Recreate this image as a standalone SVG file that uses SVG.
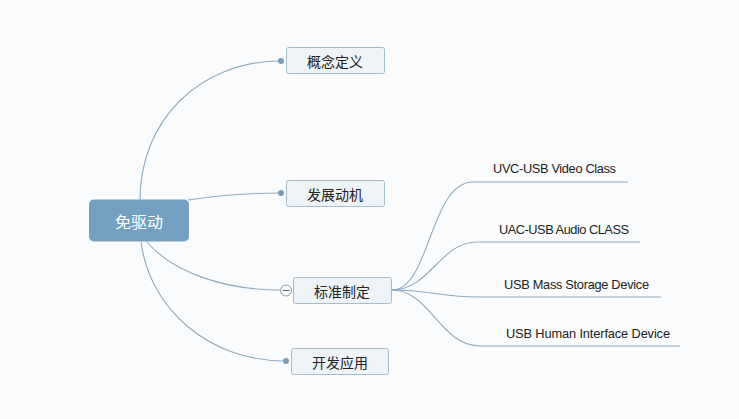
<svg xmlns="http://www.w3.org/2000/svg" width="739" height="419" viewBox="0 0 739 419">
<style>
.bg{fill:#fafbfc}
.box{fill:#eef3f7;stroke:#a5bccd;stroke-width:1}
.t{font-family:"Noto Sans CJK SC","Liberation Sans",sans-serif;font-size:14px;fill:#222;text-anchor:middle;dominant-baseline:central}
.rt{font-family:"Noto Sans CJK SC","Liberation Sans",sans-serif;font-size:16px;fill:#fff;text-anchor:middle;dominant-baseline:central}
.lt{font-family:"Liberation Sans","Noto Sans",sans-serif;font-size:12.8px;fill:#222}
.c{fill:none;stroke:#8eaabf;stroke-width:1.1}
.dot{fill:#7c9cb5}
</style>
<rect class="bg" x="0" y="0" width="739" height="419"/>
<g id="connectors">
<path class="c" d="M140,200 C140,120 200,61 281,61"/>
<path class="c" d="M188,200 C220,195 250,193 281,193"/>
<path class="c" d="M147,242 C175,275 230,290 280,290"/>
<path class="c" d="M141,242 C150,310 210,361 285,361"/>
<path class="c" d="M392,290 C430,290 430,182 473,182 H628"/>
<path class="c" d="M392,290 C430,290 440,242 477,242 H640"/>
<path class="c" d="M392,290 C430,290 440,297 480,297 H661"/>
<path class="c" d="M392,290 C430,290 440,346 480,346 H680"/>
<circle class="dot" cx="281" cy="61" r="3"/>
<circle class="dot" cx="281" cy="193" r="3"/>
<circle class="dot" cx="286" cy="361" r="3"/>
</g>
<g id="root">
<rect x="89" y="199.5" width="100" height="42" rx="5" fill="#739fc0"/>
<text class="rt" x="139" y="221">免驱动</text>
</g>
<g id="n1">
<rect class="box" x="286.5" y="47.5" width="98" height="26" rx="2"/>
<text class="t" x="335" y="60.5">概念定义</text>
</g>
<g id="n2">
<rect class="box" x="286.5" y="180.5" width="98" height="26" rx="2"/>
<text class="t" x="335" y="193.5">发展动机</text>
</g>
<g id="n3">
<rect class="box" x="293.5" y="277.5" width="98" height="26" rx="2"/>
<text class="t" x="342" y="290.5">标准制定</text>
<circle cx="286" cy="290.5" r="5.5" fill="#fafbfc" stroke="#8e9aa5" stroke-width="1"/>
<line x1="282.5" y1="290.5" x2="289.5" y2="290.5" stroke="#666" stroke-width="1"/>
</g>
<g id="n4">
<rect class="box" x="291.5" y="348.5" width="97" height="26" rx="2"/>
<text class="t" x="340" y="361.5">开发应用</text>
</g>
<g id="c1"><text class="lt" x="493" y="173" textLength="123" lengthAdjust="spacing">UVC-USB Video Class</text></g>
<g id="c2"><text class="lt" x="499" y="234" textLength="130" lengthAdjust="spacing">UAC-USB Audio CLASS</text></g>
<g id="c3"><text class="lt" x="504" y="289" textLength="145" lengthAdjust="spacing">USB Mass Storage Device</text></g>
<g id="c4"><text class="lt" x="506" y="338" textLength="164" lengthAdjust="spacing">USB Human Interface Device</text></g>
</svg>
